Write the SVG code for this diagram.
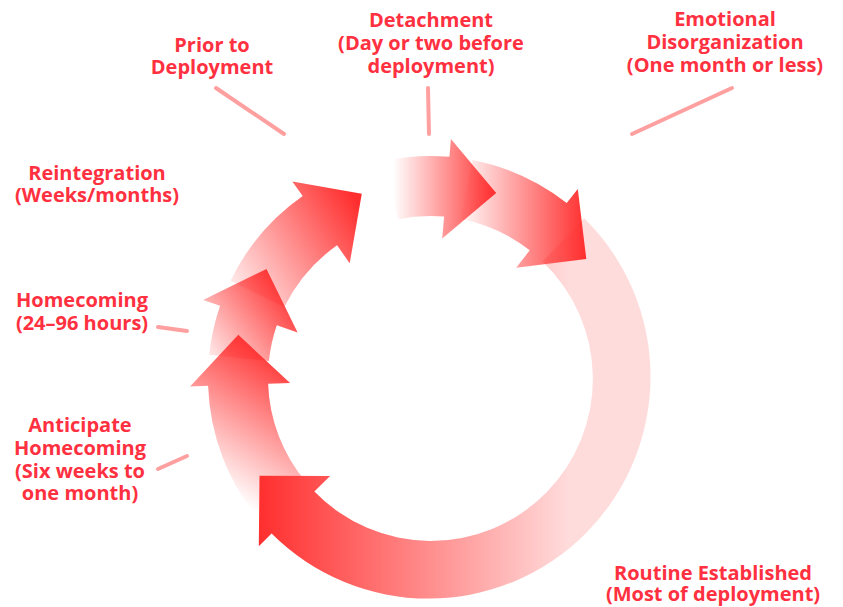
<svg xmlns="http://www.w3.org/2000/svg" width="843" height="607" viewBox="0 0 843 607">
<style>
.lbl{font-family:"Open Sans","Liberation Sans",Arial,sans-serif;font-weight:700;font-size:20px;fill:#ff3040;text-anchor:middle}
.lead{stroke:#ffa0a0;stroke-width:4;stroke-linecap:round;fill:none}
</style>
<defs>
<linearGradient id="gA" gradientUnits="userSpaceOnUse" x1="393" y1="0" x2="496" y2="0">
<stop offset="0" stop-color="#ff2e2e" stop-opacity="0"/>
<stop offset="1" stop-color="#ff2e2e" stop-opacity="1"/>
</linearGradient>
<linearGradient id="gB" gradientUnits="userSpaceOnUse" x1="468" y1="0" x2="586" y2="0">
<stop offset="0" stop-color="#ff2e2e" stop-opacity="0.08"/>
<stop offset="1" stop-color="#ff2e2e" stop-opacity="1"/>
</linearGradient>
<linearGradient id="gC" gradientUnits="userSpaceOnUse" x1="262" y1="0" x2="570" y2="0">
<stop offset="0" stop-color="#ff3030"/>
<stop offset="1" stop-color="#ffdcdc"/>
</linearGradient>
<linearGradient id="gD" gradientUnits="userSpaceOnUse" x1="205" y1="480" x2="285" y2="355">
<stop offset="0" stop-color="#ff2e2e" stop-opacity="0"/>
<stop offset="1" stop-color="#ff2e2e" stop-opacity="1"/>
</linearGradient>
<linearGradient id="gE" gradientUnits="userSpaceOnUse" x1="200" y1="345" x2="285" y2="280">
<stop offset="0" stop-color="#ff2e2e" stop-opacity="0.1"/>
<stop offset="1" stop-color="#ff2e2e" stop-opacity="1"/>
</linearGradient>
<linearGradient id="gF" gradientUnits="userSpaceOnUse" x1="235" y1="290" x2="362" y2="210">
<stop offset="0" stop-color="#ff2e2e" stop-opacity="0.1"/>
<stop offset="1" stop-color="#ff2e2e" stop-opacity="1"/>
</linearGradient>
</defs>
<rect width="843" height="607" fill="#ffffff"/>
<g id="connectors">
<line class="lead" x1="216" y1="88" x2="284" y2="134"/>
<line class="lead" x1="428" y1="88" x2="429" y2="134"/>
<line class="lead" x1="732" y1="88" x2="632" y2="134"/>
<line class="lead" x1="158" y1="327" x2="187" y2="331"/>
<line class="lead" x1="158" y1="469" x2="187" y2="456"/>
</g>
<g id="cycle">
<path id="arrow-reintegration" fill="url(#gF)" d="M230.5,280.7 A222,222 0 0 1 302.7,196.1 L292.3,181.4 L361.8,193.7 L349.7,263.3 L337.1,245.3 A162,162 0 0 0 284.4,307.0 Z"/>
<path id="arrow-homecoming" fill="url(#gE)" d="M209.2,354.8 A222,222 0 0 1 220.1,305.7 L203.1,299.9 L266.5,269.0 L297.6,332.4 L276.8,325.3 A162,162 0 0 0 268.9,361.1 Z"/>
<path id="arrow-anticipate" fill="url(#gD)" d="M259.9,520.7 A222,222 0 0 1 208.1,385.7 L190.1,386.4 L238.3,334.8 L290.1,382.9 L268.1,383.7 A162,162 0 0 0 305.9,482.1 Z"/>
<path id="arrow-routine" fill="url(#gC)" d="M584.2,218.3 A222,222 0 1 1 271.6,533.6 L258.8,546.2 L259.5,475.7 L330.1,476.1 L314.4,491.5 A162,162 0 1 0 542.5,261.5 Z"/>
<path id="arrow-emotional" fill="url(#gB)" d="M472.4,160.1 A222,222 0 0 1 566.7,203.1 L577.8,188.9 L586.3,258.9 L516.2,267.7 L529.7,250.3 A162,162 0 0 0 460.9,219.0 Z"/>
<path id="arrow-detachment" fill="url(#gA)" d="M385.7,160.5 A222,222 0 0 1 449.4,156.8 L450.9,138.9 L496.2,193.0 L442.2,238.5 L444.1,216.6 A162,162 0 0 0 397.7,219.3 Z"/>
</g>
<g id="node-prior"><text class="lbl" x="212" y="52">Prior to</text><text class="lbl" x="212" y="74">Deployment</text></g>
<g id="node-detachment"><text class="lbl" x="431" y="27">Detachment</text><text class="lbl" x="431" y="50">(Day or two before</text><text class="lbl" x="431" y="73">deployment)</text></g>
<g id="node-emotional"><text class="lbl" x="725" y="26">Emotional</text><text class="lbl" x="725" y="49">Disorganization</text><text class="lbl" x="725" y="72">(One month or less)</text></g>
<g id="node-reintegration"><text class="lbl" x="97" y="180">Reintegration</text><text class="lbl" x="97" y="202">(Weeks/months)</text></g>
<g id="node-homecoming"><text class="lbl" x="82" y="307">Homecoming</text><text class="lbl" x="82" y="330">(24–96 hours)</text></g>
<g id="node-anticipate"><text class="lbl" x="80" y="432">Anticipate</text><text class="lbl" x="80" y="455">Homecoming</text><text class="lbl" x="80" y="478">(Six weeks to</text><text class="lbl" x="80" y="500">one month)</text></g>
<g id="node-routine"><text class="lbl" x="713" y="580">Routine Established</text><text class="lbl" x="713" y="601">(Most of deployment)</text></g>
</svg>
